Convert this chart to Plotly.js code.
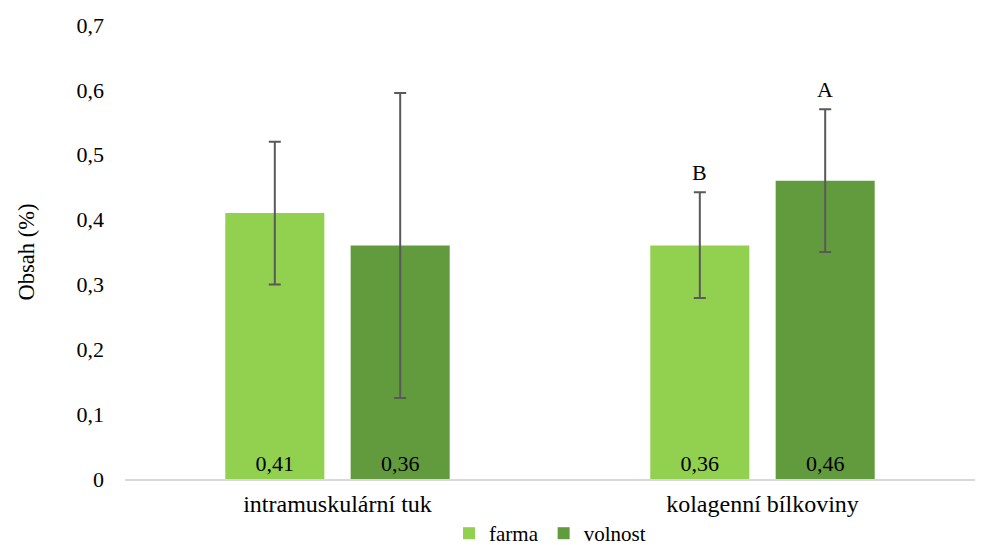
<!DOCTYPE html>
<html>
<head>
<meta charset="utf-8">
<script src="https://cdn.plot.ly/plotly-3.0.1.min.js"></script>
<style>html,body{margin:0;padding:0;background:#fff;}#chart{width:986px;height:545px;}</style>
</head>
<body>
<div id="chart"></div>
<script>
const categories = ['intramuskulární tuk', 'kolagenní bílkoviny'];
const seriesNames = ['farma', 'volnost'];
const farmaValues = [0.41, 0.36];
const farmaUpper = [0.52, 0.442];
const farmaLower = [0.30, 0.279];
const volnostValues = [0.36, 0.46];
const volnostUpper = [0.595, 0.570];
const volnostLower = [0.125, 0.35];
const farmaLetters = ['', 'B'];
const volnostLetters = ['', 'A'];
const colors = ['#92D050', '#629B3E'];

const FONT = '"Liberation Serif", "Times New Roman", serif';

function mkTrace(name, vals, up, lo, color) {
  return {
    type: 'bar', name: name, x: categories, y: vals,
    marker: {color: color},
    text: vals.map(v => v.toFixed(2).replace('.', ',')),
    textposition: 'inside', insidetextanchor: 'start',
    textfont: {family: FONT, size: 22, color: '#000'},
    error_y: {type: 'data', symmetric: false,
      array: up.map((u, i) => u - vals[i]),
      arrayminus: lo.map((l, i) => vals[i] - l),
      color: '#595959', thickness: 2, width: 6},
    hoverinfo: 'none'
  };
}

const traces = [
  mkTrace(seriesNames[0], farmaValues, farmaUpper, farmaLower, colors[0]),
  mkTrace(seriesNames[1], volnostValues, volnostUpper, volnostLower, colors[1])
];

const off = 0.1476;
const annotations = [];
categories.forEach((c, i) => {
  if (farmaLetters[i]) annotations.push({x: i - off, y: farmaUpper[i], xref: 'x', yref: 'y', text: farmaLetters[i], showarrow: false, yanchor: 'bottom', yshift: 5, font: {family: FONT, size: 22, color: '#000'}});
  if (volnostLetters[i]) annotations.push({x: i + off, y: volnostUpper[i], xref: 'x', yref: 'y', text: volnostLetters[i], showarrow: false, yanchor: 'bottom', yshift: 5, font: {family: FONT, size: 22, color: '#000'}});
});

const layout = {
  width: 986, height: 545,
  margin: {l: 125, r: 11, t: 25, b: 66, autoexpand: false},
  paper_bgcolor: '#fff', plot_bgcolor: '#fff',
  separators: ',.',
  font: {family: FONT, size: 22, color: '#000'},
  barmode: 'group', bargap: 0.41, bargroupgap: 0.21,
  showlegend: true,
  legend: {orientation: 'h', x: 0.5, xanchor: 'center', y: -0.075, yanchor: 'top', font: {family: FONT, size: 21, color: '#000'}, itemwidth: 30, traceorder: 'normal'},
  xaxis: {type: 'category', showline: true, linecolor: '#d9d9d9', linewidth: 1.5, ticks: '', showgrid: false, automargin: false, ticklabelstandoff: 3, tickfont: {family: FONT, size: 24, color: '#000'}},
  yaxis: {range: [0, 0.7], dtick: 0.1, showgrid: false, zeroline: false, showline: false, ticks: '', ticklen: 0, automargin: false, ticklabelstandoff: 20, tickfont: {family: FONT, size: 22, color: '#000'},
    title: {text: 'Obsah (%)', font: {family: FONT, size: 22.5, color: '#000'}, standoff: 35}},
  annotations: annotations
};

Plotly.newPlot('chart', traces, layout, {staticPlot: true, displayModeBar: false});
</script>
</body>
</html>
